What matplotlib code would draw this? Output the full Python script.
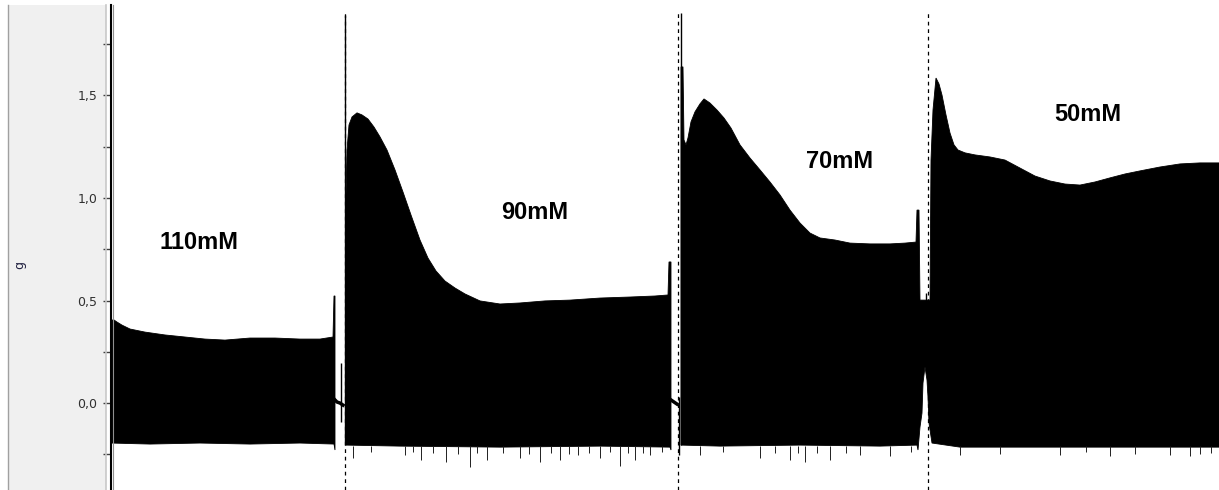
import matplotlib
matplotlib.use("Agg")
import matplotlib.pyplot as plt
from matplotlib.patches import Rectangle
from matplotlib.lines import Line2D
import numpy as np

# force trace (g) vs time (s)
# segment 1: 110mM
seg1_up_t = [0, 3, 6, 11, 19, 34, 54, 74, 94, 114, 139, 164, 189, 209, 222, 223, 224]
seg1_up_v = [0.405, 0.405, 0.395, 0.380, 0.361, 0.346, 0.332, 0.322, 0.312, 0.307,
             0.317, 0.317, 0.312, 0.312, 0.322, 0.522, 0.522]
seg1_lo_t = [0, 39, 89, 139, 189, 223, 224]
seg1_lo_v = [-0.195, -0.200, -0.195, -0.200, -0.195, -0.200, -0.229]

# segment 2: 90mM
seg2_up_t = [235, 236, 238, 241, 246, 251, 257, 263, 269, 276, 284, 292, 300, 309,
             317, 325, 334, 344, 354, 369, 389, 409, 434, 459, 489, 519, 544, 557,
             558, 560]
seg2_up_v = [1.015, 1.234, 1.356, 1.395, 1.415, 1.405, 1.385, 1.346, 1.298, 1.234,
             1.137, 1.029, 0.917, 0.795, 0.707, 0.644, 0.595, 0.561, 0.532, 0.498,
             0.483, 0.488, 0.498, 0.502, 0.512, 0.517, 0.522, 0.527, 0.688, 0.688]
seg2_lo_t = [235, 289, 389, 489, 559, 560]
seg2_lo_v = [-0.205, -0.210, -0.215, -0.210, -0.215, -0.229]

# segments 3 + 4: 70mM and 50mM (joined by the wash gap)
seg34_up_t = [570, 572, 573, 575, 577, 580, 584, 589, 593, 599, 606, 613, 620, 629,
              639, 649, 659, 669, 679, 689, 699, 709, 724, 739, 759, 779, 794, 805,
              806, 808, 809, 819, 820, 822, 825, 828, 831, 835, 839, 843, 847, 854,
              864, 879, 894, 909, 924, 939, 954, 969, 984, 999, 1014, 1029, 1049,
              1069, 1089, 1108]
seg34_up_v = [1.639, 1.639, 1.283, 1.259, 1.293, 1.371, 1.420, 1.459, 1.483, 1.463,
              1.429, 1.390, 1.341, 1.259, 1.195, 1.137, 1.078, 1.015, 0.941, 0.878,
              0.829, 0.805, 0.795, 0.780, 0.776, 0.776, 0.780, 0.785, 0.941, 0.941,
              0.502, 0.502, 1.185, 1.429, 1.585, 1.556, 1.502, 1.405, 1.317, 1.259,
              1.234, 1.220, 1.210, 1.200, 1.185, 1.146, 1.107, 1.083, 1.068, 1.063,
              1.078, 1.098, 1.117, 1.132, 1.151, 1.166, 1.171, 1.171]
seg34_lo_t = [570, 609, 689, 769, 806, 807, 809, 811, 812, 814, 816, 817, 818, 821,
              849, 939, 1039, 1108]
seg34_lo_v = [-0.205, -0.210, -0.205, -0.210, -0.205, -0.229, -0.117, -0.049, 0.098,
              0.176, 0.112, 0.029, -0.098, -0.195, -0.215, -0.215, -0.215, -0.215]

# thin vertical artefacts (stimulus spikes, gap traces): t, low, high
spike_t = [230, 234, 568, 570, 815]
spike_lo = [-0.093, -0.205, -0.254, -0.205, 0.454]
spike_hi = [0.195, 1.893, 0.029, 1.902, 0.537]

# baseline traces during the wash gaps
gap1_t = [224, 226, 229, 232]
gap1_v = [0.015, 0.005, 0.000, -0.010]
gap2_t = [560, 563, 566]
gap2_v = [0.015, 0.005, -0.005]

# downward noise on the lower envelope: t, depth
noise_t = [242, 260, 294, 302, 310, 322, 335, 347, 359, 366, 376, 392, 409, 418, 429,
           440, 449, 458, 467, 478, 489, 499, 509, 517, 524, 532, 539, 551,
           589, 612, 649, 664, 679, 687, 694, 706, 719, 735, 749, 779, 800, 849, 889,
           949, 975, 999, 1024, 1059, 1079, 1089, 1100]
noise_v = [-0.268, -0.240, -0.254, -0.240, -0.278, -0.245, -0.288, -0.250, -0.312,
           -0.245, -0.278, -0.245, -0.268, -0.250, -0.288, -0.245, -0.278, -0.250,
           -0.254, -0.245, -0.268, -0.240, -0.307, -0.245, -0.278, -0.245, -0.254,
           -0.240, -0.254, -0.240, -0.268, -0.245, -0.278, -0.245, -0.288, -0.245,
           -0.278, -0.245, -0.254, -0.259, -0.240, -0.254, -0.249, -0.254, -0.240,
           -0.259, -0.249, -0.254, -0.259, -0.249, -0.245]

# event marks
event_t = [234, 567, 817]

labels = ["110mM", "90mM", "70mM", "50mM"]
label_t = [88, 424, 729, 977]
label_v = [0.785, 0.927, 1.180, 1.405]

major_ticks = [0.0, 0.5, 1.0, 1.5]
minor_ticks = [-0.25, 0.25, 0.75, 1.25, 1.75]


def fill_segment(ax, up_t, up_v, lo_t, lo_v):
    xs = list(up_t) + list(lo_t)[::-1]
    ys = list(up_v) + list(lo_v)[::-1]
    ax.fill(xs, ys, color="black", lw=0.6, edgecolor="black")


W, H = 1219, 490
fig = plt.figure(figsize=(W / 100, H / 100), dpi=100)
ax = fig.add_axes([111 / W, 0, 1 - 111 / W, 485 / H])

fill_segment(ax, seg1_up_t, seg1_up_v, seg1_lo_t, seg1_lo_v)
fill_segment(ax, seg2_up_t, seg2_up_v, seg2_lo_t, seg2_lo_v)
fill_segment(ax, seg34_up_t, seg34_up_v, seg34_lo_t, seg34_lo_v)

ax.vlines(spike_t, spike_lo, spike_hi, color="black", lw=1)
ax.plot(gap1_t, gap1_v, color="black", lw=2.5)
ax.plot(gap2_t, gap2_v, color="black", lw=2.5)
ax.vlines(noise_t, -0.21, noise_v, color="#202020", lw=0.7)

for t in event_t:
    ax.axvline(t, ymin=0, ymax=0.99, color="black", lw=0.9, ls=(0, (3, 3)))

for txt, t, v in zip(labels, label_t, label_v):
    ax.text(t, v, txt, ha="center", va="center", fontsize=17,
            fontweight="bold", family="Liberation Sans")

ax.set_xlim(0, 1108)
ax.set_ylim(-0.424, 1.941)
ax.set_xticks([])
ax.set_yticks(major_ticks)
ax.set_yticklabels([f"{v:.1f}".replace(".", ",") for v in major_ticks])
ax.set_yticks(minor_ticks, minor=True)
ax.tick_params(axis="y", which="both", direction="out", length=6, width=1,
               color="#404040", pad=4, labelsize=9, labelcolor="#303030")
for side in ["top", "right", "bottom"]:
    ax.spines[side].set_visible(False)
ax.spines["left"].set_color("black")
ax.spines["left"].set_linewidth(1.5)

# grey side panel like the acquisition software
fig.patches.append(Rectangle((8 / W, 0), (105.5 - 8) / W, 485 / H,
                             transform=fig.transFigure, facecolor="#f0f0f0",
                             edgecolor="none", zorder=-1))
fig.lines.append(Line2D([8 / W, 8 / W], [0, 485 / H], transform=fig.transFigure,
                        color="#a0a0a0", lw=1))
fig.lines.append(Line2D([106 / W, 106 / W], [0, 485 / H], transform=fig.transFigure,
                        color="#c8c8c8", lw=1.2))
fig.lines.append(Line2D([112.5 / W, 112.5 / W], [0, 485 / H], transform=fig.transFigure,
                        color="#909090", lw=0.8))
fig.text(20 / W, 1 - 265 / H, "g", rotation=90, fontsize=9, color="#202040",
         ha="center", va="center")

fig.savefig("out.png", dpi=100)
